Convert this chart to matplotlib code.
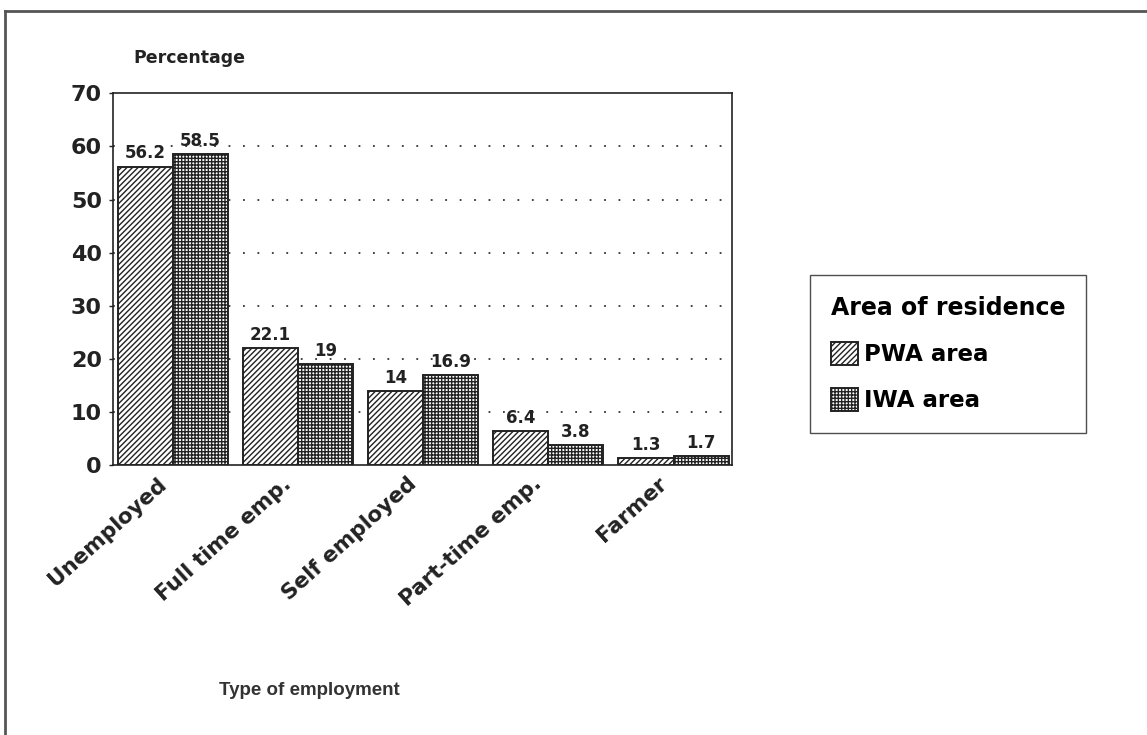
import matplotlib.pyplot as plt
from matplotlib.lines import Line2D
import matplotlib.transforms as mtransforms
import numpy as np

categories = ["Unemployed", "Full time emp.", "Self employed", "Part-time emp.", "Farmer"]
pwa = [56.2, 22.1, 14, 6.4, 1.3]
iwa = [58.5, 19, 16.9, 3.8, 1.7]
pwa_labels = ["56.2", "22.1", "14", "6.4", "1.3"]
iwa_labels = ["58.5", "19", "16.9", "3.8", "1.7"]

plt.rcParams['font.family'] = ['DejaVu Sans']
plt.rcParams['font.weight'] = 'bold'
plt.rcParams['hatch.linewidth'] = 1.0

ink = '#222222'
fig = plt.figure(figsize=(11.47, 7.35), dpi=100)
ax = fig.add_axes([0.0985, 0.367, 0.54, 0.506])

x = np.arange(len(categories))
w = 0.44
b1 = ax.bar(x - w/2, pwa, w, facecolor='white', edgecolor=ink, hatch='//////', linewidth=1.4, zorder=3, label='PWA area')
b2 = ax.bar(x + w/2, iwa, w, facecolor='white', edgecolor=ink, hatch='+++++', linewidth=1.4, zorder=3, label='IWA area')

for xi, v, s in zip(x, pwa, pwa_labels):
    ax.text(xi - w/2, v + 0.8, s, ha='center', va='bottom', fontsize=12, fontweight='bold', color=ink)
for xi, v, s in zip(x, iwa, iwa_labels):
    ax.text(xi + w/2, v + 0.8, s, ha='center', va='bottom', fontsize=12, fontweight='bold', color=ink)

ax.set_xlim(-0.48, 4.47)
ax.set_ylim(0, 70)
ax.set_yticks(range(0, 71, 10))
ax.tick_params(axis='y', labelsize=16, length=3, width=1, pad=5, colors=ink)
ax.set_xticks(x)
ax.set_xticklabels(categories, rotation=42, ha='right', rotation_mode='anchor', fontsize=15.5, color=ink)
ax.tick_params(axis='x', length=0, pad=6)
shift = mtransforms.ScaledTranslation(-16 / 100, 0, fig.dpi_scale_trans)
for lab in ax.get_xticklabels():
    lab.set_transform(lab.get_transform() + shift)
for gy in range(10, 61, 10):
    ax.axhline(gy, color='#333333', linestyle=(0, (1, 7)), linewidth=1.3, zorder=1)
for sp in ax.spines.values():
    sp.set_color(ink)
    sp.set_linewidth(1.2)

fig.text(0.165, 0.921, "Percentage", fontsize=12.5, fontweight='bold', ha='center', va='center', color=ink)
fig.text(0.270, 0.061, "Type of employment", fontsize=13.5, ha='center', va='center', color='#333333',
         family=['Liberation Sans', 'DejaVu Sans'], fontweight='bold')

leg = ax.legend(handles=[b1, b2], title="Area of residence", loc='upper left',
                bbox_to_anchor=(0.6965, 0.641), bbox_transform=fig.transFigure,
                fontsize=16.5, title_fontsize=17, frameon=True, fancybox=False,
                edgecolor=ink, handlelength=1.2, handleheight=1.2,
                handletextpad=0.25, borderpad=0.9, labelspacing=0.95, alignment='left')
leg.get_frame().set_linewidth(1.0)
leg.get_title().set_fontweight('bold')

# outer border (left and top only visible)
fig.add_artist(Line2D([0.0045, 0.0045], [0, 0.985], transform=fig.transFigure, color='#555555', linewidth=2))
fig.add_artist(Line2D([0.0045, 1.0], [0.985, 0.985], transform=fig.transFigure, color='#555555', linewidth=2))

fig.savefig("out.png", dpi=100)
